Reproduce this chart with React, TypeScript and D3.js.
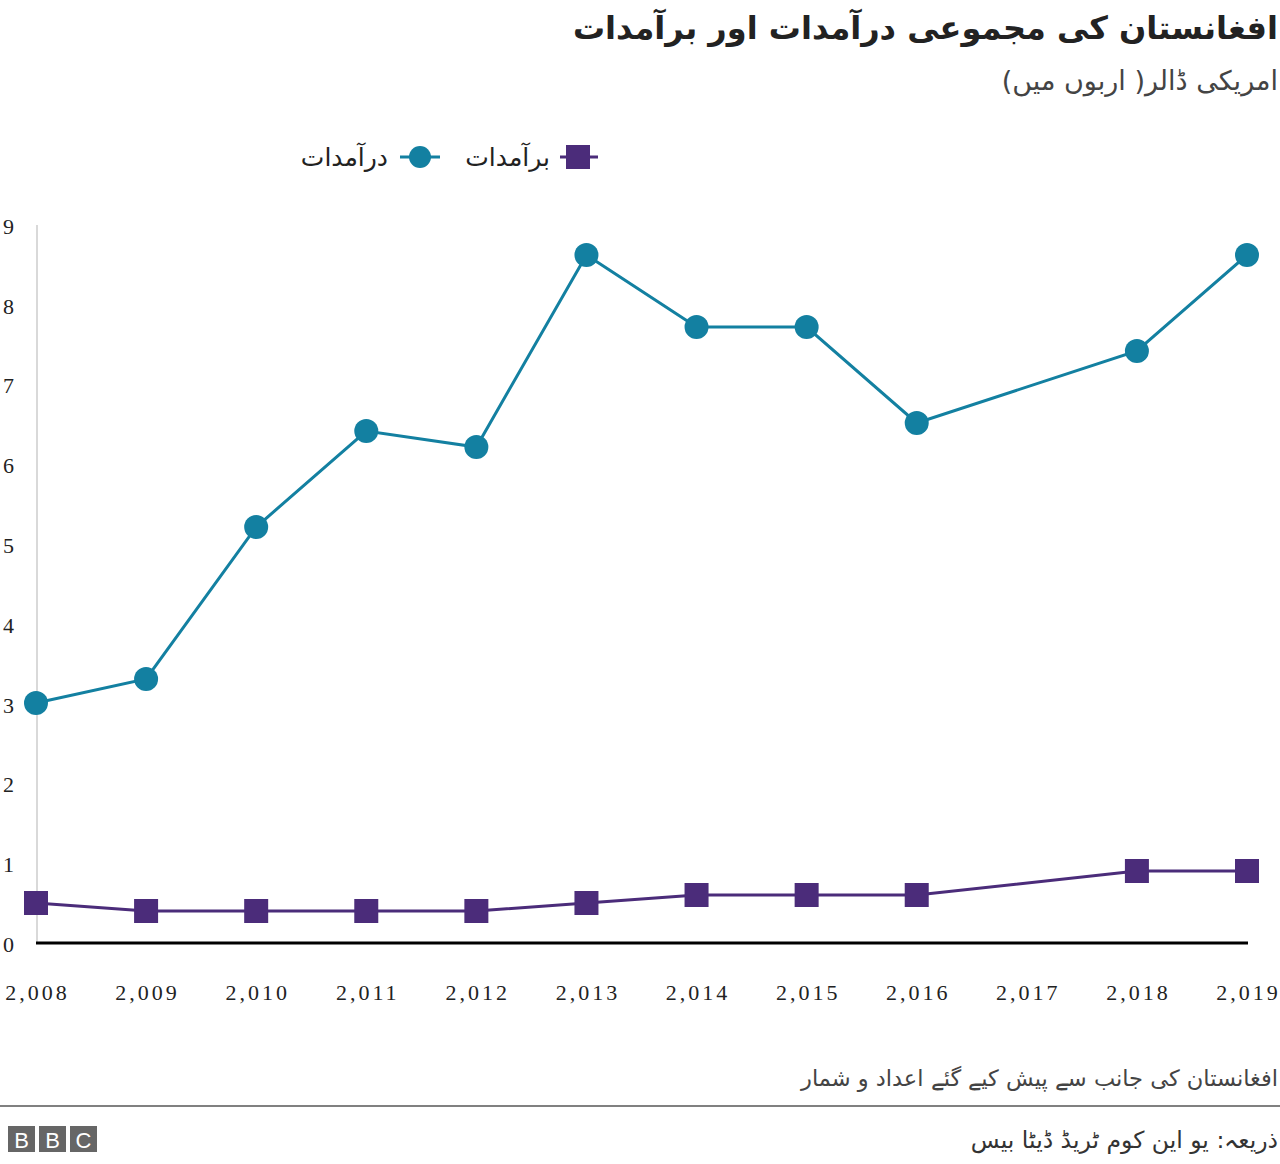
import React from "react";
import * as d3 from "d3";

const years = [2008, 2009, 2010, 2011, 2012, 2013, 2014, 2015, 2016, 2018, 2019];
const xTickYears = [2008, 2009, 2010, 2011, 2012, 2013, 2014, 2015, 2016, 2017, 2018, 2019];
const importsVals = [3.0, 3.3, 5.2, 6.4, 6.2, 8.6, 7.7, 7.7, 6.5, 7.4, 8.6];
const exportsVals = [0.5, 0.4, 0.4, 0.4, 0.4, 0.5, 0.6, 0.6, 0.6, 0.9, 0.9];
const yTicks = [0, 1, 2, 3, 4, 5, 6, 7, 8, 9];

const titleText = "افغانستان کی مجموعی درآمدات اور برآمدات";
const subtitleText = "امریکی ڈالر( اربوں میں)";
const importsLabel = "درآمدات";
const exportsLabel = "برآمدات";
const noteText = "افغانستان کی جانب سے پیش کیے گئے اعداد و شمار";
const sourceText = "ذریعہ: یو این کوم ٹریڈ ڈیٹا بیس";

const W = 1280;
const H = 1164;
const TEAL = "#1380a1";
const PURPLE = "#4b2c7a";
const urduFont = "'DejaVu Sans', 'Noto Sans', sans-serif";
const numFont = "'Liberation Serif', 'DejaVu Serif', serif";

export default function App() {
  const x = d3.scaleLinear().domain([2008, 2019]).range([36, 1247]);
  const y = d3.scaleLinear().domain([0, 9]).range([943, 223]);
  const fmt = d3.format(",");

  const impData = years.map((yr, i) => ({ yr, v: importsVals[i] }));
  const expData = years.map((yr, i) => ({ yr, v: exportsVals[i] }));
  const line = d3
    .line<{ yr: number; v: number }>()
    .x((d) => x(d.yr))
    .y((d) => y(d.v));

  const sq = 24;

  return (
    <div style={{ position: "absolute", left: 0, top: 0 }}>
      <svg width={W} height={H} style={{ display: "block", background: "#fff" }}>
        {/* Title */}
        <text x={1278} y={39} direction="rtl" textAnchor="start" fontFamily={urduFont} fontWeight="bold" fontSize={32} fill="#222">
          {titleText}
        </text>
        <text x={1278} y={90} direction="rtl" textAnchor="start" fontFamily={urduFont} fontSize={27} fill="#444">
          {subtitleText}
        </text>

        {/* Legend */}
        <g>
          <line x1={400} x2={440} y1={157} y2={157} stroke={TEAL} strokeWidth={3} />
          <circle cx={420} cy={157} r={11} fill={TEAL} />
          <text x={388} y={166} direction="rtl" textAnchor="start" fontFamily={urduFont} fontSize={25} fill="#222">
            {importsLabel}
          </text>
          <line x1={560} x2={598} y1={157} y2={157} stroke={PURPLE} strokeWidth={3} />
          <rect x={578 - 12} y={157 - 12} width={24} height={24} fill={PURPLE} />
          <text x={550} y={166} direction="rtl" textAnchor="start" fontFamily={urduFont} fontSize={25} fill="#222">
            {exportsLabel}
          </text>
        </g>

        {/* Y axis */}
        <line x1={37} x2={37} y1={225} y2={y(0)} stroke="#cccccc" strokeWidth={1.5} />
        {yTicks.map((t) => (
          <text key={t} x={3} y={944 - t * 79.8 + 8} fontFamily={numFont} fontSize={22} fill="#222">
            {t}
          </text>
        ))}

        {/* X labels */}
        {xTickYears.map((yr) => (
          <text key={yr} x={x(yr) + 1.5} y={1000} textAnchor="middle" fontFamily={numFont} fontSize={22} letterSpacing={3} fill="#222">
            {fmt(yr)}
          </text>
        ))}

        {/* Lines */}
        <path d={line(impData) || ""} fill="none" stroke={TEAL} strokeWidth={3} />
        <path d={line(expData) || ""} fill="none" stroke={PURPLE} strokeWidth={3} />

        {impData.map((d) => (
          <circle key={"i" + d.yr} cx={x(d.yr)} cy={y(d.v)} r={12} fill={TEAL} />
        ))}
        {expData.map((d) => (
          <rect key={"e" + d.yr} x={x(d.yr) - sq / 2} y={y(d.v) - sq / 2} width={sq} height={sq} fill={PURPLE} />
        ))}

        {/* Baseline */}
        <line x1={36} x2={1248} y1={y(0)} y2={y(0)} stroke="#000" strokeWidth={3} />

        {/* Footer */}
        <text x={1278} y={1086} direction="rtl" textAnchor="start" fontFamily={urduFont} fontSize={22.5} fill="#444">
          {noteText}
        </text>
        <line x1={0} x2={W} y1={1106} y2={1106} stroke="#808080" strokeWidth={2} />
        {["B", "B", "C"].map((c, i) => (
          <g key={i}>
            <rect x={8 + i * 31} y={1126} width={27} height={26} fill="#666" />
            <text x={8 + i * 31 + 13.5} y={1148} textAnchor="middle" fontFamily="'Liberation Sans', Arial, sans-serif" fontSize={22} fill="#fff">
              {c}
            </text>
          </g>
        ))}
        <text x={1278} y={1148} direction="rtl" textAnchor="start" fontFamily={urduFont} fontSize={23.5} fill="#333">
          {sourceText}
        </text>
      </svg>
    </div>
  );
}
